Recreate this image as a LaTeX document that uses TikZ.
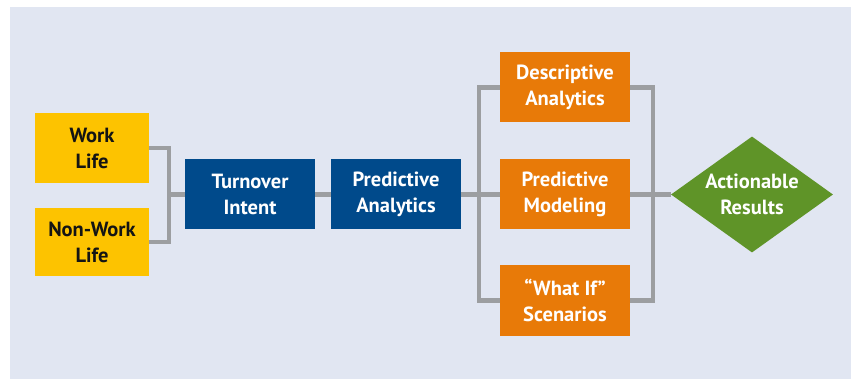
\documentclass[tikz,border=0pt]{standalone}
\usepackage{fontspec}
\setmainfont{PT Sans}
\usetikzlibrary{shapes.geometric,calc}
\definecolor{pbg}{HTML}{E1E6F2}
\definecolor{pyellow}{HTML}{FDC300}
\definecolor{pblue}{HTML}{004A8B}
\definecolor{porange}{HTML}{E87A08}
\definecolor{pgreen}{HTML}{5F9428}
\definecolor{pgray}{HTML}{9C9EA1}
\definecolor{pink}{HTML}{141414}
\tikzset{
  pbox/.style={
    fill=#1, draw=none, inner sep=0pt, align=center,
    minimum width=130pt, minimum height=70pt,
    font=\fontsize{20.5}{26}\selectfont\bfseries, text=white},
  pdiam/.style={
    diamond, fill=pgreen, draw=none, inner sep=0pt, align=center,
    aspect=1.4, minimum width=162pt, minimum height=116pt,
    font=\fontsize{20.5}{26}\selectfont\bfseries, text=white},
  plink/.style={draw=pgray, line width=4.2pt, line join=miter},
}
\begin{document}
\begin{tikzpicture}[x=1pt,y=-1pt]

\useasboundingbox (0,0) rectangle (851,379);
\fill[pbg] (10,7) rectangle (851,379);

\node[pbox=pyellow,text=pink,minimum width=114pt] (work) at (92,148) {Work\\Life};
\node[pbox=pyellow,text=pink,minimum width=114pt,minimum height=68pt] (nonwork) at (92,242) {Non-Work\\Life};

\node[pbox=pblue] (turnover) at (250,194.5) {Turnover\\Intent};
\node[pbox=pblue] (predan) at (396,194.5) {Predictive\\Analytics};

\node[pbox=porange] (descr) at (565,87.5) {Descriptive\\Analytics};
\node[pbox=porange] (predmod) at (565,194.5) {Predictive\\Modeling};
\node[pbox=porange] (whatif) at (565,300.5) {``What If''\\Scenarios};

\node[pdiam] (result) at (752,194.5) {Actionable\\Results};

% brackets
\coordinate (join) at (169,194.5);
\coordinate (fork) at (479,194.5);
\coordinate (merge) at (653,194.5);

\draw[plink] (work.east) -| (join) |- (nonwork.east);
\draw[plink] (join) -- (turnover.west);
\draw[plink] (turnover.east) -- (predan.west);
\draw[plink] (descr.west) -| (fork) |- (whatif.west);
\draw[plink] (predan.east) -- (predmod.west);
\draw[plink] (descr.east) -| (merge) |- (whatif.east);
\draw[plink] (predmod.east) -- (result.west);

\end{tikzpicture}
\end{document}
